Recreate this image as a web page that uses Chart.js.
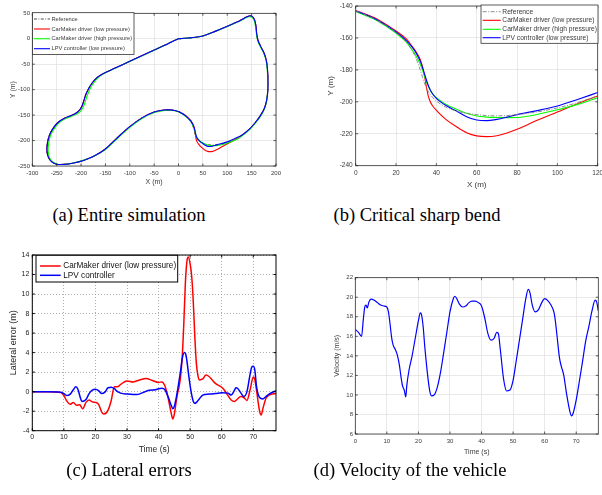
<!DOCTYPE html>
<html><head><meta charset="utf-8">
<script src="https://cdn.jsdelivr.net/npm/chart.js@4.4.0/dist/chart.umd.min.js"></script>
<style>
body{margin:0;background:#fff;}
#fig{position:relative;width:602px;height:495px;overflow:hidden;background:#fff;}
canvas{position:absolute;}
.cap{position:absolute;font-family:'Liberation Serif','Times New Roman',serif;font-size:18.5px;color:#000;white-space:nowrap;transform:translate(-50%,-50%);}
</style></head><body>
<div id="fig">
<canvas id="ca" width="300" height="200" style="left:0px;top:0px"></canvas>
<canvas id="cb" width="302" height="200" style="left:300px;top:0px"></canvas>
<canvas id="cc" width="300" height="220" style="left:0px;top:240px"></canvas>
<canvas id="cd" width="302" height="220" style="left:300px;top:240px"></canvas>
<div class="cap" style="left:129px;top:215px">(a) Entire simulation</div>
<div class="cap" style="left:417px;top:215px">(b) Critical sharp bend</div>
<div class="cap" style="left:129px;top:470px">(c) Lateral errors</div>
<div class="cap" style="left:410px;top:470px">(d) Velocity of the vehicle</div>
</div>
<script>
// ---------- data ----------
const seriesNames = ['Reference','CarMaker driver (low pressure)','CarMaker driver (high pressure)','LPV controller (low pressure)'];
const errNames = ['CarMaker driver (low pressure)','LPV controller'];

// (b) critical sharp bend: shared X (m) grid and Y (m) of each series
const bendX    = [0,10,20,25,28,30,32,33,34,35,36,37,38,40,45,50,55,60,65,70,75,80,90,100,110,120];
const bendRef  = [-143.0,-148.5,-156.5,-162.5,-168,-173,-180,-184,-188,-191,-193.5,-195.5,-197,-199.5,-203.5,-205.8,-207.2,-208.0,-208.6,-208.8,-208.6,-208.0,-206.3,-203.8,-200.5,-196.3];
const bendLow  = [-142.8,-147.8,-155.7,-160.5,-165.3,-168.8,-173.5,-177.5,-183.0,-190.3,-196.5,-200.0,-202.3,-205.3,-211.3,-215.6,-219.3,-221.3,-221.8,-221.2,-219.5,-217.2,-211.6,-206.4,-201.2,-196.4];
const bendHigh = [-143.4,-148.8,-157.0,-162.5,-167.5,-171.5,-176.5,-179.7,-183.5,-187.2,-190.3,-192.8,-194.8,-197.4,-201.8,-204.6,-207.2,-208.9,-209.6,-209.8,-209.9,-209.8,-207.9,-205.0,-201.6,-197.4];
const bendLpv  = [-143.1,-148.3,-156.3,-161.5,-165.8,-169.5,-174.5,-178,-182,-186,-189.8,-192.6,-194.8,-197.8,-202.5,-205.8,-209.3,-211.4,-211.8,-211.0,-209.6,-208.0,-205.5,-202.6,-198.5,-194.2];

// (a) remainder of the circuit after the bend [X, Y]
const loopTrack = [[132,-188],[146,-177],[158,-164],[168,-151],[176,-137],[181,-120],[183.3,-100],[183.5,-80],[182.5,-60],[180,-42],[175,-27],[168,-14],[163,-3],[160.5,9],[159,24],[156,37],[151,44],[145,44.8],[135,40.5],[125,35],[112,29.5],[100,24.5],[75,14.5],[50,5.5],[35,3],[20,1.5],[5,0.3],[0,0],[-30,-13.3],[-60,-26.6],[-100,-44.4],[-130,-57.7],[-155,-68.8],[-168,-77],[-178,-88],[-185,-99],[-190,-109],[-194,-121],[-198,-132],[-203,-140],[-210,-146],[-220,-151],[-235,-156.5],[-248,-165],[-258,-177],[-265,-190],[-269,-205],[-270,-220],[-267,-233],[-260,-242],[-250,-246.5],[-235,-246.8],[-215,-244],[-195,-239],[-175,-231.5],[-150,-216.5],[-125,-194],[-100,-172.7],[-75,-155.5],[-50,-144],[-30,-140],[-18,-139.8],[-8,-141],[0,-143.1]];
const loopHigh = [[132,-189.5],[146,-178.5],[158,-165.5],[168,-152.5],[176,-138.5],[181,-121],[183,-100],[183,-80],[182,-60],[179.5,-42],[174.5,-27.5],[167.5,-15],[162.5,-4],[160,9],[158,24],[155,36.5],[150,42.5],[144.5,43.3],[135,39.5],[125,34.5],[112,29.2],[100,24.3],[75,14.3],[50,5.3],[35,2.8],[20,1.4],[5,0.2],[0,-0.2],[-30,-13.5],[-60,-26.8],[-100,-44.6],[-130,-58],[-155,-69.5],[-167,-78.5],[-176,-89.5],[-182.5,-100.5],[-187,-111],[-191,-122.5],[-195.5,-134],[-201,-142],[-209,-148],[-220,-152.5],[-235,-158],[-247,-166.5],[-256,-178.5],[-263,-191],[-266.5,-206],[-267.5,-220],[-264.5,-233.5],[-257,-242.5],[-248,-246.5],[-233,-246.5],[-214,-243.5],[-195,-238.5],[-175,-231.5],[-150,-217.5],[-125,-195.5],[-100,-174],[-75,-156.5],[-50,-145],[-30,-141],[-18,-140.5],[-8,-141.5],[0,-143.4]];

// (c) lateral errors [time (s), error (m)]
const errLow = [[0,0],[5,0],[9,-0.1],[10,-0.4],[11,-1.0],[12,-1.3],[13,-1.1],[14,-1.4],[15,-1.35],[16,-1.75],[17,-1.1],[18,-0.85],[19,-1.05],[20,-1.1],[21,-1.3],[22,-2.1],[22.7,-2.3],[24,-1.9],[25,-0.9],[26,0.5],[27,0.5],[28,0.75],[30,1.1],[32,1.0],[34,1.2],[36,1.35],[38,1.15],[40,0.95],[41,1.0],[42,0.6],[43,-0.6],[44,-2.2],[44.5,-2.8],[45,-2.3],[45.5,-1.2],[46,-0.2],[46.5,0.5],[47,1.6],[47.5,3.6],[48,7],[48.5,11.2],[49,13.4],[49.4,13.8],[50,13.1],[50.5,11.8],[51,9.2],[51.5,5.5],[52,2.8],[52.5,1.6],[53,1.2],[54,1.3],[55,1.7],[56,1.55],[57,1.2],[58,0.85],[60,0.45],[61,0.1],[62,-0.4],[63,-0.85],[64,-1.0],[65,-0.75],[66,-0.5],[67,-0.6],[68,-0.9],[69,0.2],[70,1.5],[70.5,1.2],[71,0.2],[72,-2.0],[72.5,-2.4],[73,-1.8],[74,-0.7],[75,-0.35],[77.2,-0.2]];
const errLpv = [[0,0],[5,0],[9,-0.05],[10,-0.2],[11,-0.4],[12,-0.25],[13,0.2],[13.8,0.5],[14.5,0.2],[15.2,-0.6],[15.7,-1.0],[17,-0.8],[18,-0.2],[19,0.15],[20,0.25],[21,0.1],[22,-0.2],[23,-0.05],[24,0.4],[25,0.45],[26,0.3],[27,0.0],[28,-0.15],[30,-0.25],[32,-0.3],[33,-0.3],[35,-0.1],[37,0.15],[39,0.2],[40,0.3],[41,0.35],[42,0.2],[43,-0.5],[44,-1.4],[44.5,-1.75],[45,-1.5],[45.5,-0.8],[46,0.1],[47,2.2],[47.5,3.4],[48.2,4.0],[48.7,3.7],[49.2,2.6],[49.7,1.3],[50.3,0.0],[51,-1.0],[51.5,-1.2],[52,-1.1],[53,-0.7],[54,-0.35],[56,-0.25],[58,-0.2],[60,-0.1],[62,-0.15],[63,-0.35],[64,0.1],[64.5,0.4],[65,0.35],[66,-0.1],[67,-0.5],[68,0.0],[69,1.8],[69.5,2.5],[70,2.6],[70.5,2.2],[71,0.6],[72,-0.6],[73,-0.75],[74,-0.5],[75,-0.25],[77.2,0.1]];

// (d) velocity [time (s), velocity (m/s)]
const velLpv = [[0,16.7],[1,16.4],[2,16.0],[2.5,17.6],[3,19.0],[3.4,19.2],[3.8,18.9],[4.3,19.5],[5,19.8],[6,19.7],[7,19.45],[8,19.2],[9,19.1],[10,19.0],[10.5,18.5],[11,17.3],[11.5,15.9],[12,15.1],[12.6,14.7],[13.3,14.1],[14,13.0],[14.5,11.8],[15,10.9],[15.5,10.5],[16,9.8],[16.3,10.9],[17,12.5],[18,14.0],[19,15.8],[20,17.6],[20.6,18.4],[21,18.2],[21.5,17.0],[22,15.0],[23,11.8],[23.6,10.4],[24.2,9.9],[25,10.0],[26,10.8],[27,12.3],[28,14.3],[29,16.4],[30,18.5],[31,19.8],[31.5,20.1],[32,19.95],[33,19.3],[34,19.0],[35,19.1],[36,19.45],[37,19.6],[38,19.6],[39,19.45],[40,19.1],[41,17.9],[42,16.3],[43,15.6],[44,15.8],[44.8,16.4],[45.3,16.3],[46,14.5],[47,11.6],[48,10.4],[49,10.5],[50,11.5],[51,13.5],[52,15.6],[53,17.7],[54,19.8],[54.8,20.8],[55.4,20.4],[56,19.3],[57,18.5],[58,18.7],[59,19.4],[60,19.85],[61,19.65],[62,19.2],[63,18.4],[63.5,17.3],[64,15.8],[64.7,13.8],[65.3,12.9],[66,12.1],[67,10.0],[68,8.3],[68.5,7.85],[69,8.1],[70,9.5],[71,11.4],[72,13.4],[73,15.5],[74,17.0],[75,18.6],[76,19.7],[76.5,19.5],[77,18.6]];

// ---------- helpers ----------
const FONT = "'Liberation Sans', Arial, Helvetica, sans-serif";
const bendPts = ys => bendX.map((x, i) => ({x: x, y: ys[i]}));
const pairPts = arr => arr.map(p => ({x: p[0], y: p[1]}));

const framePlugin = {
  id: 'frame',
  afterDatasetsDraw(chart, args, o) {
    if (!o || !o.color) return;
    const {ctx, chartArea: a, scales} = chart;
    ctx.save();
    ctx.strokeStyle = o.color; ctx.lineWidth = o.width;
    ctx.beginPath();
    const L = o.tick;
    scales.x.ticks.forEach(t => {
      const p = scales.x.getPixelForValue(t.value);
      ctx.moveTo(p, a.bottom); ctx.lineTo(p, a.bottom - L);
      ctx.moveTo(p, a.top); ctx.lineTo(p, a.top + L);
    });
    scales.y.ticks.forEach(t => {
      const p = scales.y.getPixelForValue(t.value);
      ctx.moveTo(a.left, p); ctx.lineTo(a.left + L, p);
      ctx.moveTo(a.right, p); ctx.lineTo(a.right - L, p);
    });
    ctx.stroke();
    ctx.strokeRect(a.left, a.top, a.right - a.left, a.bottom - a.top);
    ctx.restore();
  }
};
const legendPlugin = {
  id: 'boxLegend',
  afterDraw(chart, args, o) {
    if (!o || !o.rows) return;
    const ctx = chart.ctx;
    ctx.save();
    ctx.fillStyle = '#fff';
    ctx.fillRect(o.x, o.y, o.w, o.h);
    ctx.strokeStyle = o.border; ctx.lineWidth = o.bw;
    ctx.strokeRect(o.x, o.y, o.w, o.h);
    ctx.font = o.fs + 'px ' + FONT;
    ctx.textBaseline = 'middle';
    chart.data.datasets.forEach((ds, i) => {
      const y = o.rows[i];
      ctx.beginPath();
      ctx.setLineDash(ds.borderDash || []);
      ctx.strokeStyle = ds.borderColor; ctx.lineWidth = ds.borderWidth;
      ctx.moveTo(o.lx0, y); ctx.lineTo(o.lx1, y); ctx.stroke();
      ctx.setLineDash([]);
      ctx.fillStyle = o.textColor;
      ctx.fillText(ds.label, o.tx, y);
    });
    ctx.restore();
  }
};
Chart.register(framePlugin, legendPlugin);

function axis(o) {
  return {
    type: 'linear', min: o.min, max: o.max,
    afterFit: s => {
      if (s.isHorizontal()) s.height = o.size; else s.width = o.size;
      s.paddingLeft = 0; s.paddingRight = 0; s.paddingTop = 0; s.paddingBottom = 0;
    },
    ticks: {stepSize: o.step, includeBounds: false, autoSkip: false, maxRotation: 0, minRotation: 0,
      padding: o.pad, color: o.color, font: {family: FONT, size: o.fs}, callback: v => String(v)},
    grid: {drawTicks: false, color: o.grid, lineWidth: o.glw},
    border: {display: false, dash: o.dash || []},
    title: {display: true, text: o.title, color: o.color, font: {family: FONT, size: o.tfs}, padding: 0}
  };
}
function ds(label, data, color, width, order, extra) {
  return Object.assign({label: label, data: data, borderColor: color, backgroundColor: color,
    borderWidth: width, pointRadius: 0, fill: false, order: order}, extra || {});
}
function makeChart(id, datasets, opts) {
  return new Chart(document.getElementById(id), {
    type: 'line',
    data: {datasets: datasets},
    options: Object.assign({
      responsive: false, maintainAspectRatio: false, animation: false, devicePixelRatio: 1, events: [],
      parsing: true
    }, opts)
  });
}

const GRAYTXT = '#3a3a3a', GRID = '#e0e0e0', FRAME = '#262626';

// ---------- (a) entire simulation ----------
makeChart('ca', [
  ds(seriesNames[0], bendPts(bendRef).concat(pairPts(loopTrack)), '#000000', 0.7, 3, {borderDash: [3,1.5,0.8,1.5], tension: 0.35}),
  ds(seriesNames[1], bendPts(bendLow).concat(pairPts(loopTrack)), '#ff0000', 1.1, 2, {tension: 0.35}),
  ds(seriesNames[2], bendPts(bendHigh).concat(pairPts(loopHigh)), '#00ff00', 1.1, 1, {tension: 0.35}),
  ds(seriesNames[3], bendPts(bendLpv).concat(pairPts(loopTrack)), '#0000ff', 1.1, 0, {tension: 0.35})
], {
  layout: {padding: {left: 8.8, right: 24, top: 13.3, bottom: 13.4}},
  scales: {
    x: axis({min: -300, max: 200, step: 50, size: 20.6, pad: 3.7, fs: 6, tfs: 7, title: 'X (m)', color: GRAYTXT, grid: GRID, glw: 0.7}),
    y: axis({min: -250, max: 50, step: 50, size: 23.5, pad: 2.3, fs: 6, tfs: 7, title: 'Y (m)', color: GRAYTXT, grid: GRID, glw: 0.7})
  },
  plugins: {legend: {display: false}, tooltip: {enabled: false},
    frame: {color: FRAME, width: 0.75, tick: 2.5},
    boxLegend: {x: 32.5, y: 12.7, w: 101.5, h: 41.8, rows: [19, 29, 38.7, 48.7], lx0: 34, lx1: 50, tx: 51.5, fs: 5.7, border: FRAME, bw: 0.75, textColor: GRAYTXT}}
});

// ---------- (b) critical sharp bend ----------
makeChart('cb', [
  ds(seriesNames[0], bendPts(bendRef), '#808080', 0.9, 0, {borderDash: [4,1.5,1,1.5], cubicInterpolationMode: 'monotone'}),
  ds(seriesNames[1], bendPts(bendLow), '#ff0000', 1.1, 3, {cubicInterpolationMode: 'monotone'}),
  ds(seriesNames[2], bendPts(bendHigh), '#00ff00', 1.1, 2, {cubicInterpolationMode: 'monotone'}),
  ds(seriesNames[3], bendPts(bendLpv), '#0000ff', 1.1, 1, {cubicInterpolationMode: 'monotone'})
], {
  layout: {padding: {left: 25.9, right: 4.3, top: 6, bottom: 10.9}},
  scales: {
    x: axis({min: 0, max: 120, step: 20, size: 23.4, pad: 3.7, fs: 6.5, tfs: 8, title: 'X (m)', color: GRAYTXT, grid: GRID, glw: 0.7}),
    y: axis({min: -240, max: -140, step: 20, size: 29.8, pad: 3, fs: 6.5, tfs: 8, title: 'Y (m)', color: GRAYTXT, grid: GRID, glw: 0.7})
  },
  plugins: {legend: {display: false}, tooltip: {enabled: false},
    frame: {color: FRAME, width: 0.75, tick: 2.5},
    boxLegend: {x: 181, y: 5, w: 117, h: 38.3, rows: [11.7, 20.3, 29.3, 37.7], lx0: 182.7, lx1: 200.7, tx: 202.3, fs: 6.7, border: FRAME, bw: 0.75, textColor: GRAYTXT}}
});

// ---------- (c) lateral errors ----------
makeChart('cc', [
  ds(errNames[0], pairPts(errLow), '#ff0000', 1.5, 1, {cubicInterpolationMode: 'monotone'}),
  ds(errNames[1], pairPts(errLpv), '#0000ff', 1.5, 0, {cubicInterpolationMode: 'monotone'})
], {
  layout: {padding: {left: 8.6, right: 24, top: 15, bottom: 4.9}},
  scales: {
    x: axis({min: 0, max: 77.2, step: 10, size: 24.4, pad: 2.4, fs: 7, tfs: 8.5, title: 'Time (s)', color: '#222', grid: '#8c8c8c', glw: 0.7, dash: [1, 2]}),
    y: axis({min: -4, max: 14, step: 2, size: 23.7, pad: 3, fs: 7, tfs: 9, title: 'Lateral error (m)', color: '#222', grid: '#8c8c8c', glw: 0.7, dash: [1, 2]})
  },
  plugins: {legend: {display: false}, tooltip: {enabled: false},
    frame: {color: '#000', width: 1, tick: 2.5},
    boxLegend: {x: 36, y: 15.3, w: 141.7, h: 26.7, rows: [26, 35.3], lx0: 40, lx1: 60.7, tx: 63.3, fs: 8.2, border: '#000', bw: 1, textColor: '#111'}}
});

// ---------- (d) velocity ----------
makeChart('cd', [
  ds('Velocity', pairPts(velLpv), '#0000ff', 1.2, 0, {cubicInterpolationMode: 'monotone'})
], {
  layout: {padding: {left: 33.1, right: 3.7, top: 37.7, bottom: 4.1}},
  scales: {
    x: axis({min: 0, max: 77, step: 10, size: 21.9, pad: 3.4, fs: 6, tfs: 7, title: 'Time (s)', color: GRAYTXT, grid: GRID, glw: 0.7}),
    y: axis({min: 6, max: 22, step: 2, size: 22.2, pad: 2.3, fs: 6, tfs: 7, title: 'Velocity (m/s)', color: GRAYTXT, grid: GRID, glw: 0.7})
  },
  plugins: {legend: {display: false}, tooltip: {enabled: false},
    frame: {color: FRAME, width: 0.75, tick: 2.5}}
});
</script>
</body></html>
